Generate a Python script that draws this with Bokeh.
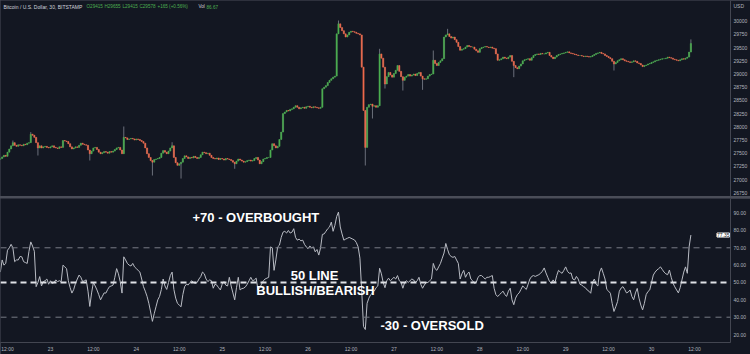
from bokeh.plotting import figure
from bokeh.models import Range1d, FixedTicker, Span, Label, ColumnDataSource
from bokeh.layouts import column
from bokeh.embed import file_html
from bokeh.resources import INLINE
from bokeh.core.properties import value

# ---------------- data ----------------
close = [
    27400, 27430, 27460, 27440, 27520,
    27580, 27640, 27700, 27650,
    27630, 27660, 27650, 27640, 27670, 27660, 27690, 27700,
    27860, 27840, 27800, 27700, 27600,
    27640, 27600, 27620, 27630, 27610, 27600, 27620, 27640, 27610, 27600, 27590, 27620, 27610,
    27740, 27730, 27720, 27680, 27620, 27580,
    27600, 27620, 27610, 27650, 27690, 27670, 27660, 27650,
    27560, 27490, 27540, 27600, 27610, 27570, 27520, 27490,
    27510, 27530, 27520, 27500, 27530, 27520, 27540,
    27570, 27600, 27610, 27560, 27490,
    27800, 27790, 27760, 27770, 27780, 27770, 27750, 27770, 27760, 27740,
    27720, 27690, 27600, 27490, 27420, 27360, 27330,
    27380, 27390, 27400, 27420, 27500, 27550, 27520, 27490,
    27540, 27600, 27640, 27420, 27320, 27270, 27300, 27330,
    27400, 27450, 27430, 27400, 27420, 27410, 27440, 27420, 27400, 27420,
    27470, 27520, 27510, 27490, 27500, 27460, 27420,
    27400, 27390, 27410, 27380, 27400, 27390, 27370, 27400, 27390,
    27380, 27360, 27330, 27300, 27350, 27390, 27370, 27350, 27330,
    27340, 27360, 27370, 27350, 27360, 27400, 27420,
    27370, 27300, 27340, 27390, 27400, 27420, 27420,
    27560, 27680, 27640, 27600, 27630, 27760, 27900, 28250,
    28280, 28310, 28300, 28330, 28340, 28370, 28400, 28370, 28340,
    28360, 28370, 28350, 28380, 28390, 28370, 28360, 28380, 28370, 28360, 28350, 28370,
    28720, 28750, 28780, 28840, 28880, 28910, 28940, 28960,
    29760, 29950, 29880, 29820, 29760, 29700, 29740, 29790, 29810, 29800, 29790, 29770, 29760, 29740,
    29130, 28310, 27610, 28370, 28420, 28430, 28390, 28400, 28370, 28400,
    29380, 29300, 29130, 28810, 28950, 29030, 28980, 28940, 29010, 29070, 29160, 29050, 28950, 28880,
    28940, 28960, 28990, 28960, 28980, 29000, 28970, 29010, 29030, 28960, 28910, 28900, 28910, 28960, 28990, 29000,
    29260, 29200, 29160, 29220, 29250, 29290, 29700, 29740, 29760, 29710, 29680, 29700, 29650, 29600, 29520, 29450,
    29470, 29480, 29510, 29540, 29520, 29510, 29510, 29470, 29440, 29410, 29480, 29500, 29510, 29520, 29510, 29500, 29510, 29490, 29480,
    29380, 29260, 29270, 29290, 29320, 29300, 29290, 29320, 29350, 29240, 29160, 29120, 29100, 29150, 29190, 29250, 29270, 29280, 29290, 29260,
    29310, 29350, 29370, 29380, 29370, 29390, 29380, 29380, 29400, 29410, 29350, 29320, 29290, 29320, 29350, 29370, 29380, 29390, 29400, 29410,
    29420, 29400, 29390, 29380, 29370, 29360, 29350, 29350, 29340, 29330, 29340, 29330, 29320, 29330, 29350, 29370, 29390, 29400, 29410, 29390, 29380,
    29350, 29330, 29310, 29290, 29240, 29190, 29220, 29250, 29270, 29290, 29270, 29250, 29240, 29230, 29220, 29230, 29250, 29240, 29210, 29200,
    29170, 29140, 29160, 29170, 29190, 29200, 29220, 29230, 29250, 29260, 29270, 29280, 29290, 29290, 29300, 29320, 29310, 29300, 29280,
    29270, 29260, 29250, 29270, 29290, 29280, 29300, 29320, 29415, 29578,
]
first_open = 27380

rsi = [
    56, 63, 60, 61, 68.6, 70, 72, 70, 62, 63, 63, 65, 64.8, 62, 61.5, 61, 68, 73.4, 71, 68,
    47.6, 50, 53.4, 48, 50.5, 51, 52, 49, 51, 49.5, 50, 51.5, 50.5, 51, 50.5, 60, 59, 58, 51, 47,
    43.9, 46, 49.5, 52, 54.3, 53, 50.5, 51, 51.5, 45, 36.2, 44, 50, 48, 45.7, 43, 40, 42, 44, 43.9,
    46, 47.6, 48, 48.5, 53, 58, 55, 50.5, 43.9, 64.8, 63, 61, 60, 59.5, 61, 59, 58, 57, 56, 52,
    47.6, 45, 42, 38, 33, 27.6, 32, 36, 40, 42, 46, 52, 48, 46, 50, 54, 56, 46, 41, 38,
    37, 36, 43, 47.6, 49, 48.6, 50, 51, 50, 49.5, 50, 52, 53.4, 56, 55, 52, 50.5, 51.5, 51, 46.7,
    49, 48.5, 47, 45.7, 49, 50.5, 48.5, 48, 53, 48, 44, 40, 47, 53, 45.7, 46.5, 46.7, 47.5, 49, 51,
    53, 51, 51.5, 52.5, 45.7, 47, 49, 51, 52, 52.5, 53, 70.5, 70, 57, 63, 70.5, 71.5, 76, 79, 79.5,
    78.5, 80, 78.5, 79, 81, 76, 74.4, 75, 74, 74.4, 72, 70.5, 69.5, 71, 70, 70.5, 67.7, 69, 65.8, 70,
    77.7, 78, 79.5, 81, 82, 84.8, 79.5, 83, 88, 90.6, 82, 78, 74.4, 75, 75.5, 76, 75.5, 75, 74.5, 73,
    70.5, 64, 45, 24.7, 22.9, 38, 41, 42.9, 44, 45, 47, 48, 58.2, 55, 50, 47, 51, 52.5, 51, 52,
    53, 52, 54, 51, 50, 46.7, 50, 51, 50, 51, 52, 51.5, 50, 51, 53, 49, 46.7, 48.5, 50, 50,
    51, 52, 61, 58, 57, 59, 61, 64, 67, 72.5, 69, 66, 65, 64.5, 65, 63, 61, 52, 55, 57,
    53, 55, 56, 52, 51, 49.5, 50, 53, 54, 54, 53, 52, 53, 53, 53.5, 54, 46.7, 43, 41.9, 43,
    44, 45, 43, 42, 45, 46.7, 40, 37.2, 41, 43, 44, 46, 48, 47, 46, 49, 52, 53.5, 54, 53.5,
    54, 54.5, 55.3, 56.5, 58.4, 55.5, 53, 50.5, 49.6, 51.5, 49.8, 54, 57, 56, 55.3, 57, 59, 56.5, 55.3, 55.5,
    52, 51.5, 53.5, 52, 49, 48.5, 47.6, 47, 45.7, 45, 43.8, 50, 52, 49, 48, 56, 58.4, 55.3, 52, 46,
    45, 43.8, 38, 33.3, 36, 39, 45, 46.8, 47.6, 46, 44, 44.5, 45.7, 42, 40, 44, 46.6, 41, 37, 34.2,
    38, 43, 44.8, 45.7, 50, 54.3, 56, 57.2, 58, 59, 57.5, 56, 55, 54.5, 57.2, 53, 49.6, 47.5, 45.7, 44,
    47, 51.5, 56, 59, 55.3, 70.5, 77.35,
]

# notable wick extremes (candle index, price)
wick_hi_idx = [7, 17, 69, 96, 189, 212, 242, 250, 386]
wick_hi_val = [27740, 27900, 28006, 27708, 30013, 29477, 29445, 29855, 29655]
wick_lo_idx = [21, 50, 85, 101, 131, 204, 208, 215, 225, 236, 287, 343]
wick_lo_val = [27456, 27362, 27077, 27020, 27205, 27267, 28157, 28725, 28687, 28700, 28940, 29066]

price_ticks = [26750, 27000, 27250, 27500, 27750, 28000, 28250, 28500, 28750,
               29000, 29250, 29500, 29750, 30000]
currency_tick = 30297
currency_label = "USD"
rsi_ticks = [20, 30, 40, 50, 60, 70, 80, 90]
rsi_levels = [70, 50, 30]
time_ticks = [12, 24, 36, 48, 60, 72, 84, 96, 108, 120, 132, 144, 156, 168, 180, 192, 204]
time_labels = ["12:00", "23", "12:00", "24", "12:00", "25", "12:00", "26", "12:00",
               "27", "12:00", "28", "12:00", "29", "12:00", "30", "12:00"]
last_candle_hour = 203.0   # 30th, 11:00 (hours after the 22nd, 00:00)

header_texts = ["Bitcoin / U.S. Dollar, 30, BITSTAMP", "O29415", "H29655", "L29415",
                "C29578", "+165 (+0.56%)", "Vol", "86.67"]
last_rsi_text = "77.35"

# ---------------- derived ----------------
N = len(close)
t = [last_candle_hour - 0.5 * (N - 1 - i) for i in range(N)]
opens = [first_open] + close[:-1]
high = [max(o, c) for o, c in zip(opens, close)]
low = [min(o, c) for o, c in zip(opens, close)]
for i, v in zip(wick_hi_idx, wick_hi_val):
    high[i] = max(high[i], v)
for i, v in zip(wick_lo_idx, wick_lo_val):
    low[i] = min(low[i], v)

BG = "#131722"
GREEN = "#4caf50"
RED = "#ef6a4c"
WICK = "#6b6f7b"
AXIS = "#434651"
SEP = "#4a4d58"
LBL = "#b2b5be"
FONT = "Liberation Sans"
TICK_FS = "5px"

X0, X1 = 10.04, 214.07
def hx(px):
    return X0 + px * (X1 - X0) / 730.0

up = [c >= o for o, c in zip(opens, close)]
src_up = ColumnDataSource(dict(t=[t[i] for i in range(N) if up[i]],
                               o=[opens[i] for i in range(N) if up[i]],
                               c=[close[i] for i in range(N) if up[i]]))
src_dn = ColumnDataSource(dict(t=[t[i] for i in range(N) if not up[i]],
                               o=[opens[i] for i in range(N) if not up[i]],
                               c=[close[i] for i in range(N) if not up[i]]))


def style_axis(ax, standoff=3):
    ax.major_tick_line_color = None
    ax.minor_tick_line_color = None
    ax.major_tick_out = 0
    ax.major_tick_in = 0
    ax.minor_tick_out = 0
    ax.minor_tick_in = 0
    ax.axis_label_standoff = 0
    ax.axis_line_color = AXIS
    ax.major_label_text_font_size = TICK_FS
    ax.major_label_text_color = LBL
    ax.major_label_text_font = FONT
    ax.major_label_standoff = standoff


# ---------------- price pane ----------------
p1 = figure(width=750, height=196, x_range=Range1d(X0, X1),
            y_range=Range1d(26680, 30392), y_axis_location="right", x_axis_location=None,
            output_backend="svg", toolbar_location=None, background_fill_color=BG,
            border_fill_color=BG, outline_line_color=None,
            min_border_left=0, min_border_top=0, min_border_bottom=0, min_border_right=20)
p1.grid.visible = False
p1.segment(x0=t, y0=low, x1=t, y1=high, color=WICK, line_width=1)
p1.vbar(x="t", top="c", bottom="o", width=0.34, source=src_up, fill_color=GREEN,
        line_color=GREEN, line_width=0.5)
p1.vbar(x="t", top="o", bottom="c", width=0.34, source=src_dn, fill_color=RED,
        line_color=RED, line_width=0.5)

ya = p1.yaxis[0]
ya.ticker = FixedTicker(ticks=price_ticks + [currency_tick])
ya.major_label_overrides = {currency_tick: currency_label}
style_axis(ya)

hdr_px = [3, 86, 104, 122, 139, 157, 198, 206]
hdr_col = ["#d1d4dc", GREEN, GREEN, GREEN, GREEN, GREEN, "#d1d4dc", GREEN]
hdr_fs = ["5px", "4.6px", "4.6px", "4.6px", "4.6px", "4.6px", "4.6px", "4.6px"]
p1.text(x=[hx(v) for v in hdr_px], y=[30278] * len(hdr_px), text=header_texts,
        text_color=hdr_col, text_font=value(FONT), text_font_size=hdr_fs,
        text_baseline="middle", text_align="left")

# ---------------- RSI pane ----------------
p2 = figure(width=750, height=156, x_range=p1.x_range,
            y_range=Range1d(15.42, 98.41), y_axis_location="right",
            output_backend="svg", toolbar_location=None, background_fill_color=BG,
            border_fill_color=BG, outline_line_color=None,
            min_border_left=0, min_border_top=0, min_border_bottom=11, min_border_right=20)
p2.grid.visible = False
for lv in rsi_levels:
    if lv == 50:
        p2.add_layout(Span(location=lv, dimension="width", line_color="#dfe1e6",
                           line_width=2, line_dash="6 4"))
    else:
        p2.add_layout(Span(location=lv, dimension="width", line_color="#787b86",
                           line_width=1, line_dash="6 5"))
p2.line(t, rsi, line_color="#b9bcc4", line_width=1)

ry = p2.yaxis[0]
ry.ticker = FixedTicker(ticks=rsi_ticks)
ry.major_label_overrides = {v: f"{v:.2f}" for v in rsi_ticks}
style_axis(ry)

xa = p2.xaxis[0]
xa.ticker = FixedTicker(ticks=time_ticks)
xa.major_label_overrides = dict(zip(time_ticks, time_labels))
style_axis(xa, standoff=3)

ann_text = ["+70 - OVERBOUGHT", "50 LINE", "BULLISH/BEARISH", "-30 - OVERSOLD"]
ann_x = [hx(192), hx(314), hx(315), hx(380)]
ann_y = [87.5, 54.3, 45.2, 25.1]
ann_align = ["left", "center", "center", "left"]
p2.text(x=ann_x, y=ann_y, text=ann_text, text_align=ann_align, text_baseline="middle",
        text_color="#ffffff", text_font=value(FONT), text_font_size="13px",
        text_font_style="bold")

# last-value tag (annotations are clipped to the frame, so it sits at the frame's right edge)
p2.add_layout(Label(x=hx(729), y=rsi[-1], text=last_rsi_text, text_align="right",
                    text_baseline="middle", text_color=BG, text_font=FONT,
                    text_font_size=TICK_FS, background_fill_color="#ffffff",
                    border_line_color="#ffffff"))

layout = column(p1, p2, spacing=2, styles={"background-color": SEP})
open("out.html", "w").write(file_html(layout, INLINE))
